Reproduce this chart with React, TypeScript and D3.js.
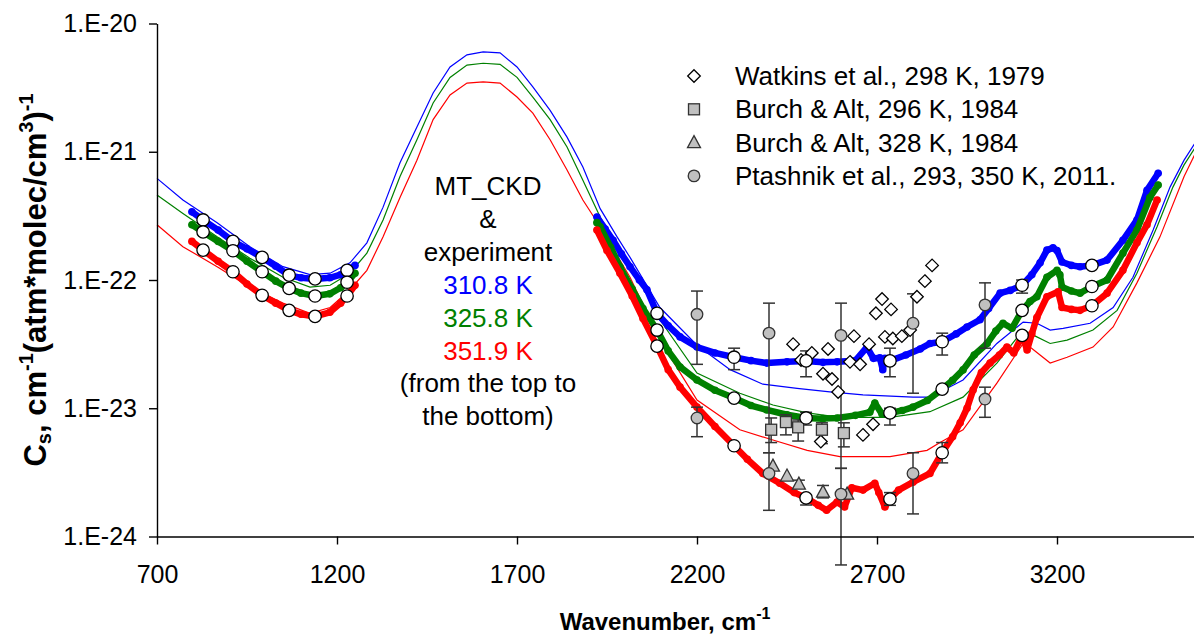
import React, { useEffect, useRef } from "react";
import * as d3 from "d3";

type Pt = [number, number];
type Bar = [number, number, number, number]; // wavenumber, value, low, high

const WIDTH = 1194;
const HEIGHT = 635;

const xTicks = [700, 1200, 1700, 2200, 2700, 3200];
const yTicks = [1e-24, 1e-23, 1e-22, 1e-21, 1e-20];

// MT_CKD model curves (thin lines)
const mtckd310: Pt[] = [
  [700, 6.2e-22], [772, 4.2e-22], [867, 2.8e-22], [958, 1.82e-22], [1050, 1.27e-22],
  [1125, 1.1e-22], [1181, 1.13e-22], [1236, 1.36e-22], [1283, 1.95e-22], [1328, 3.7e-22],
  [1375, 8.2e-22], [1422, 1.56e-21], [1467, 2.87e-21], [1514, 4.58e-21], [1561, 5.7e-21],
  [1606, 6.0e-21], [1653, 5.9e-21], [1700, 4.58e-21], [1744, 3.2e-21], [1792, 2.1e-21],
  [1839, 1.3e-21], [1883, 7.6e-22], [1931, 3.6e-22], [1978, 2.17e-22], [2014, 1.5e-22],
  [2097, 6.1e-23], [2200, 3.1e-23], [2292, 2.0e-23], [2383, 1.54e-23], [2478, 1.43e-23],
  [2569, 1.34e-23], [2661, 1.27e-23], [2800, 1.22e-23], [2847, 1.22e-23], [2939, 1.66e-23],
  [3033, 3.2e-23], [3106, 4.7e-23], [3144, 4.6e-23], [3181, 4.07e-23], [3217, 4.2e-23],
  [3292, 4.6e-23], [3356, 6.1e-23], [3411, 1.05e-22], [3467, 2.45e-22], [3514, 5.3e-22],
  [3553, 8.6e-22], [3590, 1.25e-21],
];
const mtckd326: Pt[] = [
  [700, 4.6e-22], [772, 3.3e-22], [867, 2.17e-22], [958, 1.48e-22], [1050, 1.05e-22],
  [1125, 8.8e-23], [1181, 9.1e-23], [1236, 1.13e-22], [1283, 1.62e-22], [1328, 2.94e-22],
  [1375, 6.4e-22], [1422, 1.24e-21], [1467, 2.4e-21], [1514, 3.8e-21], [1561, 4.74e-21],
  [1606, 4.9e-21], [1653, 4.8e-21], [1700, 3.8e-21], [1744, 2.67e-21], [1792, 1.78e-21],
  [1839, 1.09e-21], [1883, 6.0e-22], [1931, 3.1e-22], [1978, 1.82e-22], [2014, 1.36e-22],
  [2097, 4.9e-23], [2200, 1.88e-23], [2319, 1.31e-23], [2411, 1.06e-23], [2506, 9.2e-24],
  [2597, 8.5e-24], [2736, 8.5e-24], [2847, 9.4e-24], [2939, 1.22e-23], [3033, 2.25e-23],
  [3106, 4.07e-23], [3144, 3.6e-23], [3181, 3.2e-23], [3228, 3.4e-23], [3300, 4.07e-23],
  [3367, 5.8e-23], [3422, 1.13e-22], [3478, 2.6e-22], [3522, 5.3e-22], [3553, 7.9e-22],
  [3590, 1.15e-21],
];
const mtckd352: Pt[] = [
  [700, 2.7e-22], [772, 1.82e-22], [867, 1.27e-22], [958, 8.8e-23], [1050, 6.6e-23],
  [1125, 5.5e-23], [1181, 6.1e-23], [1236, 8.4e-23], [1283, 1.19e-22], [1328, 2.17e-22],
  [1375, 4.4e-22], [1422, 8.6e-22], [1467, 1.78e-21], [1514, 2.77e-21], [1561, 3.43e-21],
  [1606, 3.5e-21], [1653, 3.43e-21], [1700, 2.67e-21], [1744, 2.0e-21], [1792, 1.24e-21],
  [1839, 7.2e-22], [1883, 4.2e-22], [1931, 2.6e-22], [2014, 1.05e-22], [2097, 3.4e-23],
  [2200, 1.16e-23], [2319, 6.8e-24], [2411, 5.65e-24], [2506, 4.7e-24], [2597, 4.2e-24],
  [2736, 4.2e-24], [2839, 4.7e-24], [2875, 5.4e-24], [2939, 6.8e-24], [3033, 1.57e-23],
  [3106, 3.2e-23], [3125, 3.0e-23], [3181, 2.25e-23], [3228, 2.5e-23], [3300, 3.0e-23],
  [3356, 4.3e-23], [3422, 9.5e-23], [3486, 2.17e-22], [3553, 6.4e-22], [3590, 1.05e-21],
];

// experiment, dense traces (two windows)
const exp310: Pt[][] = [
  [
    [797, 3.4e-22], [828, 2.94e-22], [870, 2.45e-22], [911, 2.0e-22], [950, 1.75e-22],
    [992, 1.5e-22], [1030, 1.28e-22], [1067, 1.09e-22], [1100, 1.04e-22], [1139, 1.02e-22],
    [1180, 1.04e-22], [1210, 1.1e-22], [1228, 1.19e-22], [1250, 1.3e-22],
  ],
  [
    [1922, 3.1e-22], [1945, 2.5e-22], [1967, 2.04e-22], [1990, 1.6e-22], [2014, 1.27e-22],
    [2040, 1.0e-22], [2061, 8.4e-23], [2089, 5.5e-23], [2120, 4.4e-23], [2153, 3.6e-23],
    [2200, 3.0e-23], [2250, 2.7e-23], [2303, 2.5e-23], [2350, 2.35e-23], [2394, 2.25e-23],
    [2450, 2.3e-23], [2503, 2.34e-23], [2550, 2.28e-23], [2589, 2.3e-23], [2640, 2.35e-23],
    [2672, 3.0e-23], [2690, 2.45e-23], [2708, 2.47e-23], [2716, 2.0e-23], [2722, 2.45e-23],
    [2736, 2.34e-23], [2780, 2.6e-23], [2820, 2.9e-23], [2847, 3.2e-23], [2881, 3.3e-23],
    [2920, 3.8e-23], [2950, 4.3e-23], [2986, 4.9e-23], [3010, 6.0e-23], [3042, 7.9e-23],
    [3070, 8.3e-23], [3103, 9.1e-23], [3130, 1.1e-22], [3153, 1.36e-22], [3172, 1.71e-22],
    [3189, 1.78e-22], [3200, 1.7e-22], [3214, 1.38e-22], [3240, 1.3e-22], [3264, 1.27e-22],
    [3297, 1.3e-22], [3339, 1.43e-22], [3383, 2.04e-22], [3422, 2.94e-22], [3450, 5.0e-22],
    [3481, 6.8e-22],
  ],
];
const exp326: Pt[][] = [
  [
    [797, 2.7e-22], [828, 2.37e-22], [870, 2.0e-22], [911, 1.69e-22], [950, 1.4e-22],
    [992, 1.16e-22], [1030, 9.8e-23], [1067, 8.6e-23], [1100, 7.9e-23], [1139, 7.5e-23],
    [1180, 7.8e-23], [1210, 8.7e-23], [1228, 9.6e-23], [1250, 1.13e-22],
  ],
  [
    [1922, 2.8e-22], [1931, 2.6e-22], [1960, 1.8e-22], [1986, 1.27e-22], [2020, 8.5e-23],
    [2050, 6.0e-23], [2089, 4.07e-23], [2120, 2.8e-23], [2153, 2.1e-23], [2200, 1.66e-23],
    [2250, 1.38e-23], [2303, 1.2e-23], [2350, 1.05e-23], [2394, 9.7e-24], [2450, 8.9e-24],
    [2503, 8.4e-24], [2550, 8.3e-24], [2589, 8.4e-24], [2640, 8.8e-24], [2680, 9.3e-24],
    [2694, 1.1e-23], [2714, 9.0e-24], [2736, 9.2e-24], [2770, 9.6e-24], [2800, 1.02e-23],
    [2840, 1.15e-23], [2881, 1.41e-23], [2910, 1.65e-23], [2939, 1.99e-23], [2970, 2.6e-23],
    [3006, 3.2e-23], [3030, 4.0e-23], [3050, 4.6e-23], [3075, 4.2e-23], [3103, 5.8e-23],
    [3125, 6.8e-23], [3144, 7.4e-23], [3172, 1.05e-22], [3200, 1.19e-22], [3208, 1.1e-22],
    [3214, 8.8e-23], [3240, 8.2e-23], [3264, 7.9e-23], [3297, 8.9e-23], [3339, 1.0e-22],
    [3383, 1.62e-22], [3422, 2.45e-22], [3458, 4.4e-22], [3481, 5.5e-22],
  ],
];
const exp352: Pt[][] = [
  [
    [797, 2.0e-22], [828, 1.71e-22], [870, 1.4e-22], [911, 1.16e-22], [950, 9.3e-23],
    [992, 7.6e-23], [1030, 6.6e-23], [1067, 5.8e-23], [1100, 5.4e-23], [1139, 5.2e-23],
    [1180, 5.6e-23], [1210, 6.6e-23], [1228, 7.5e-23], [1250, 9.1e-23],
  ],
  [
    [1922, 2.45e-22], [1950, 1.7e-22], [1986, 1.13e-22], [2020, 7.5e-23], [2050, 5.0e-23],
    [2089, 3.05e-23], [2120, 2.0e-23], [2153, 1.46e-23], [2200, 1.02e-23], [2250, 7.2e-24],
    [2303, 5.1e-24], [2340, 4.0e-24], [2383, 3.1e-24], [2430, 2.6e-24], [2470, 2.2e-24],
    [2503, 2.0e-24], [2537, 1.75e-24], [2560, 1.6e-24], [2589, 1.86e-24], [2610, 1.7e-24],
    [2630, 2.4e-24], [2661, 2.3e-24], [2694, 2.6e-24], [2705, 2.2e-24], [2722, 1.7e-24],
    [2736, 1.96e-24], [2760, 2.3e-24], [2800, 2.65e-24], [2847, 3.1e-24], [2881, 4.5e-24],
    [2910, 6.0e-24], [2931, 7.7e-24], [2950, 1.0e-23], [2967, 1.39e-23], [2990, 1.9e-23],
    [3014, 2.25e-23], [3040, 2.6e-23], [3061, 3.0e-23], [3080, 2.7e-23], [3103, 3.7e-23],
    [3117, 2.85e-23], [3130, 3.8e-23], [3144, 5.1e-23], [3172, 7.4e-23], [3203, 8.1e-23],
    [3214, 6.1e-23], [3240, 5.9e-23], [3264, 5.8e-23], [3297, 6.3e-23], [3339, 7.9e-23],
    [3383, 1.19e-22], [3422, 1.95e-22], [3450, 2.7e-22], [3478, 4.2e-22],
  ],
];

// open circles on the experimental traces
const dots310: Pt[] = [
  [828, 2.94e-22], [911, 2.0e-22], [992, 1.5e-22], [1067, 1.09e-22], [1139, 1.02e-22],
  [1228, 1.19e-22], [2089, 5.5e-23], [2303, 2.5e-23], [2503, 2.34e-23], [2736, 2.34e-23],
  [2881, 3.3e-23], [3103, 9.1e-23], [3297, 1.3e-22],
];
const dots326: Pt[] = [
  [828, 2.37e-22], [911, 1.69e-22], [992, 1.16e-22], [1067, 8.6e-23], [1139, 7.5e-23],
  [1228, 9.6e-23], [2089, 4.07e-23], [2303, 1.2e-23], [2503, 8.4e-24], [2736, 9.2e-24],
  [2881, 1.41e-23], [3103, 5.8e-23], [3297, 8.9e-23],
];
const dots352: Pt[] = [
  [828, 1.71e-22], [911, 1.16e-22], [992, 7.6e-23], [1067, 5.8e-23], [1139, 5.2e-23],
  [1228, 7.5e-23], [2089, 3.05e-23], [2303, 5.1e-24], [2503, 2.0e-24], [2736, 1.96e-24],
  [2881, 4.5e-24], [3103, 3.7e-23], [3297, 6.3e-23],
];
// error bars of the open circles: wavenumber, value, low, high
const dotBars: Bar[] = [
  [2303, 2.5e-23, 2.0e-23, 2.94e-23], [2503, 2.34e-23, 1.76e-23, 2.8e-23],
  [2736, 2.34e-23, 1.76e-23, 2.94e-23], [2881, 3.3e-23, 2.6e-23, 3.85e-23],
  [3103, 9.1e-23, 7.9e-23, 1.0e-22], [2503, 8.4e-24, 7.4e-24, 9.3e-24],
  [2736, 9.2e-24, 7.4e-24, 1.0e-23], [2503, 2.0e-24, 1.76e-24, 2.1e-24],
  [2736, 1.96e-24, 1.75e-24, 2.2e-24], [2881, 4.5e-24, 3.75e-24, 5.4e-24],
];

// other measurements
const watkins: Pt[] = [
  [2467, 3.16e-23], [2489, 2.38e-23], [2519, 2.7e-23], [2564, 2.9e-23], [2550, 1.86e-23],
  [2575, 1.69e-23], [2592, 1.34e-23], [2636, 3.65e-23], [2625, 2.3e-23], [2653, 2.2e-23],
  [2678, 3.16e-23], [2697, 5.5e-23], [2714, 7.1e-23], [2739, 5.9e-23], [2722, 3.6e-23],
  [2744, 3.5e-23], [2769, 3.65e-23], [2792, 4.07e-23], [2811, 7.4e-23], [2833, 9.8e-23],
  [2853, 1.3e-22], [2544, 5.5e-24], [2661, 6.2e-24], [2689, 7.5e-24],
];
const burch296: Bar[] = [
  [2406, 6.8e-24, 5.4e-24, 8.4e-24], [2447, 7.8e-24, 6.2e-24, 8.9e-24],
  [2481, 7.1e-24, 5.55e-24, 8.1e-24], [2547, 6.8e-24, 5.3e-24, 7.7e-24],
  [2608, 6.4e-24, 5.0e-24, 7.7e-24],
];
const burch328: Bar[] = [
  [2411, 3.54e-24, 3.54e-24, 3.54e-24], [2450, 2.96e-24, 2.96e-24, 2.96e-24],
  [2483, 2.56e-24, 2.56e-24, 2.75e-24], [2550, 2.22e-24, 2.0e-24, 2.5e-24],
  [2617, 2.14e-24, 2.14e-24, 2.14e-24],
];
const ptashnik: Bar[] = [
  [2200, 5.4e-23, 2.2e-23, 8.2e-23], [2200, 8.4e-24, 6.0e-24, 1.02e-23],
  [2400, 3.85e-23, 4.5e-24, 6.6e-23], [2400, 3.1e-24, 1.6e-24, 4.5e-24],
  [2600, 3.7e-23, 3.4e-24, 6.6e-23], [2600, 2.14e-24, 6.0e-25, 3.4e-24],
  [2800, 4.6e-23, 1.31e-23, 7.8e-23], [2800, 3.1e-24, 1.5e-24, 4.5e-24],
  [3000, 6.4e-23, 2.94e-23, 9.5e-23], [3000, 1.18e-23, 8.5e-24, 1.46e-23],
];

const legendLabels = [
  "Watkins et al., 298 K, 1979",
  "Burch & Alt, 296 K, 1984",
  "Burch & Alt, 328 K, 1984",
  "Ptashnik et al., 293, 350 K, 2011.",
];
const noteLines = [
  { text: "MT_CKD", color: "#000" },
  { text: "&", color: "#000" },
  { text: "experiment", color: "#000" },
  { text: "310.8 K", color: "#0000ff" },
  { text: "325.8 K", color: "#008000" },
  { text: "351.9 K", color: "#ff0000" },
  { text: "(from the top to", color: "#000" },
  { text: "the bottom)", color: "#000" },
];

const FONT = "'Liberation Sans', Arial, sans-serif";
const GRAY = "#c0c0c0";
const INK = "#333";

const App = () => {
  const ref = useRef<SVGSVGElement>(null);

  useEffect(() => {
    const svg = d3.select(ref.current);
    svg.selectAll("*").remove();

    const x = d3.scaleLinear().domain([700, 3600]).range([157, 1201]);
    const y = d3.scaleLog().domain([1e-24, 1e-20]).range([536.5, 23.5]);
    const line = d3
      .line<Pt>()
      .x((d) => x(d[0]))
      .y((d) => y(d[1]));

    const g = svg.append("g");

    // model curves
    const models: [Pt[], string][] = [
      [mtckd310, "#0000ff"],
      [mtckd326, "#008000"],
      [mtckd352, "#ff0000"],
    ];
    models.forEach(([data, c]) => {
      g.append("path").datum(data).attr("d", line).attr("fill", "none").attr("stroke", c).attr("stroke-width", 1.2);
    });

    // experimental traces: thick band plus dots at the read points
    const exps: [Pt[][], string][] = [
      [exp310, "#0000ff"],
      [exp326, "#008000"],
      [exp352, "#ff0000"],
    ];
    exps.forEach(([parts, c]) => {
      parts.forEach((p) => {
        g.append("path")
          .datum(p)
          .attr("d", line)
          .attr("fill", "none")
          .attr("stroke", c)
          .attr("stroke-width", 6.5)
          .attr("stroke-linejoin", "round")
          .attr("stroke-linecap", "round");
        g.selectAll(null)
          .data(p)
          .join("circle")
          .attr("cx", (d) => x(d[0]))
          .attr("cy", (d) => y(d[1]))
          .attr("r", 3.8)
          .attr("fill", c);
      });
    });

    // error bars
    const bars = (data: Bar[]) => {
      data.forEach((d) => {
        if (d[2] === d[3]) return;
        const cx = x(d[0]);
        g.append("line").attr("x1", cx).attr("x2", cx).attr("y1", y(d[2])).attr("y2", y(d[3])).attr("stroke", INK).attr("stroke-width", 1.5);
        [d[2], d[3]].forEach((v) => {
          if (v === d[1]) return;
          g.append("line").attr("x1", cx - 6).attr("x2", cx + 6).attr("y1", y(v)).attr("y2", y(v)).attr("stroke", INK).attr("stroke-width", 1.5);
        });
      });
    };
    bars(ptashnik);
    bars(burch296);
    bars(burch328);
    bars(dotBars);

    const diamond = (sel: any, cx: number, cy: number) =>
      sel.append("path")
        .attr("d", `M${cx},${cy - 6.3}L${cx + 6.3},${cy}L${cx},${cy + 6.3}L${cx - 6.3},${cy}Z`)
        .attr("fill", "#fff").attr("stroke", "#000").attr("stroke-width", 1.3);
    const square = (sel: any, cx: number, cy: number) =>
      sel.append("rect").attr("x", cx - 5.5).attr("y", cy - 5.5).attr("width", 11).attr("height", 11)
        .attr("fill", GRAY).attr("stroke", INK).attr("stroke-width", 1.3);
    const triangle = (sel: any, cx: number, cy: number) =>
      sel.append("path")
        .attr("d", `M${cx},${cy - 7}L${cx + 6.5},${cy + 5}L${cx - 6.5},${cy + 5}Z`)
        .attr("fill", GRAY).attr("stroke", INK).attr("stroke-width", 1.3);
    const grayDot = (sel: any, cx: number, cy: number) =>
      sel.append("circle").attr("cx", cx).attr("cy", cy).attr("r", 5.8)
        .attr("fill", GRAY).attr("stroke", INK).attr("stroke-width", 1.3);

    watkins.forEach((d) => diamond(g, x(d[0]), y(d[1])));
    burch296.forEach((d) => square(g, x(d[0]), y(d[1])));
    burch328.forEach((d) => triangle(g, x(d[0]), y(d[1])));

    [dots310, dots326, dots352].forEach((set) => {
      set.forEach((d) => {
        g.append("circle").attr("cx", x(d[0])).attr("cy", y(d[1])).attr("r", 6.2)
          .attr("fill", "#fff").attr("stroke", "#000").attr("stroke-width", 1.3);
      });
    });
    ptashnik.forEach((d) => grayDot(g, x(d[0]), y(d[1])));

    // axes
    const yAxis = svg.append("g")
      .attr("transform", `translate(${x(700)},0)`)
      .call(
        d3.axisLeft(y).tickValues(yTicks).tickSize(8).tickSizeOuter(0).tickPadding(12)
          .tickFormat((d) => `1.E${Math.round(Math.log10(+d))}`)
      );
    const xAxis = svg.append("g")
      .attr("transform", `translate(0,${y(1e-24)})`)
      .call(d3.axisBottom(x).tickValues(xTicks).tickSize(8).tickSizeOuter(0).tickPadding(21).tickFormat(d3.format("d")));
    [yAxis, xAxis].forEach((a) => {
      a.selectAll("path, line").attr("stroke", "#000").attr("stroke-width", 1.4);
      a.selectAll("text").attr("font-family", FONT).attr("font-size", 25).attr("fill", "#000");
    });

    // axis titles
    const yt = svg.append("text")
      .attr("transform", "translate(46,280) rotate(-90)")
      .attr("text-anchor", "middle")
      .attr("font-family", FONT).attr("font-weight", "bold").attr("font-size", 31);
    yt.append("tspan").text("C");
    yt.append("tspan").attr("font-size", 20).attr("dy", 5).text("s");
    yt.append("tspan").attr("dy", -5).text(", cm");
    yt.append("tspan").attr("font-size", 20).attr("dy", -13).text("-1");
    yt.append("tspan").attr("dy", 13).text("(atm*molec/cm");
    yt.append("tspan").attr("font-size", 20).attr("dy", -13).text("3");
    yt.append("tspan").attr("dy", 13).text(")");
    yt.append("tspan").attr("font-size", 20).attr("dy", -13).text("-1");

    const xt = svg.append("text")
      .attr("x", 665).attr("y", 630)
      .attr("text-anchor", "middle")
      .attr("font-family", FONT).attr("font-weight", "bold").attr("font-size", 24);
    xt.append("tspan").text("Wavenumber, cm");
    xt.append("tspan").attr("font-size", 16).attr("dy", -11).text("-1");

    // legend
    const legend = svg.append("g").attr("font-family", FONT).attr("font-size", 26);
    legendLabels.forEach((label, i) => {
      const by = 85 + i * 33.3;
      const my = by - 9;
      if (i === 0) diamond(legend, 694, my);
      if (i === 1) square(legend, 694, my);
      if (i === 2) triangle(legend, 694, my);
      if (i === 3) grayDot(legend, 694, my);
      legend.append("text").attr("x", 735).attr("y", by).text(label);
    });

    // annotation
    const note = svg.append("g").attr("font-family", FONT).attr("font-size", 26).attr("text-anchor", "middle");
    noteLines.forEach((l, i) => {
      note.append("text").attr("x", 488).attr("y", 195 + i * 32.9).attr("fill", l.color).text(l.text);
    });
  }, []);

  return (
    <svg
      ref={ref}
      width={WIDTH}
      height={HEIGHT}
      style={{ position: "absolute", left: 0, top: 0, background: "#fff" }}
    />
  );
};

export default App;
